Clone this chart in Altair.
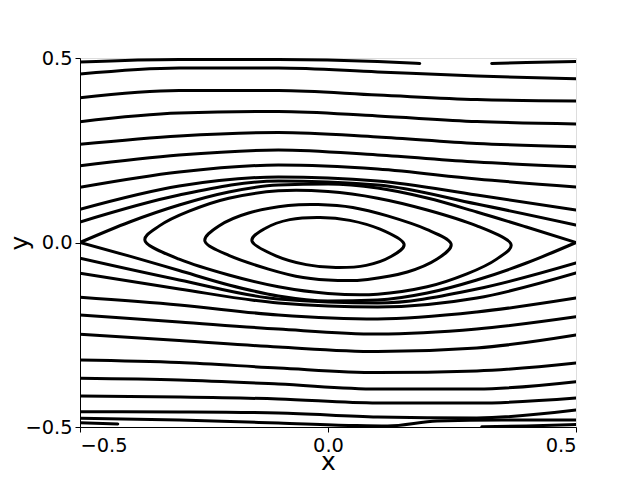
import altair as alt
import pandas as pd

# shared x positions for the open streamlines
xs = [-0.5, -0.3, -0.1, 0.1, 0.3, 0.5]

# upper open streamlines (top to bottom)
u1_x = [-0.5, -0.3, -0.1, 0.1, 0.185]
u1_y = [0.4892, 0.4959, 0.4959, 0.4905, 0.4851]
u1b_x = [0.33, 0.4, 0.5]
u1b_y = [0.4851, 0.4878, 0.4905]
u2_y = [0.4566, 0.4729, 0.4729, 0.4621, 0.4512, 0.4436]
u3_y = [0.3924, 0.4119, 0.4119, 0.3997, 0.3875, 0.3835]
u4_y = [0.3274, 0.3509, 0.3550, 0.3428, 0.3279, 0.3211]
u5_y = [0.2661, 0.2886, 0.2981, 0.2859, 0.2683, 0.2596]
u6_y = [0.2081, 0.2371, 0.2507, 0.2371, 0.2182, 0.2054]
u7_y = [0.1496, 0.1911, 0.2100, 0.1992, 0.1721, 0.1504]
u8_y = [0.0900, 0.1531, 0.1775, 0.1667, 0.1287, 0.0881]
u9_y = [0.0556, 0.1287, 0.1667, 0.1558, 0.1043, 0.0474]

# lower open streamlines (top to bottom)
l9_y = [-0.0428, -0.1016, -0.1531, -0.1640, -0.1260, -0.0556]
l8_y = [-0.0835, -0.1260, -0.1640, -0.1748, -0.1504, -0.0827]
l7_y = [-0.1485, -0.1694, -0.1965, -0.2073, -0.1883, -0.1504]
l6_y = [-0.1965, -0.2154, -0.2344, -0.2480, -0.2344, -0.2011]
l5_y = [-0.2487, -0.2656, -0.2832, -0.2954, -0.2859, -0.2507]
l4_y = [-0.3184, -0.3252, -0.3401, -0.3523, -0.3482, -0.3266]
l3_y = [-0.3680, -0.3726, -0.3835, -0.3970, -0.3970, -0.3772]
l2_y = [-0.4160, -0.4187, -0.4241, -0.4350, -0.4350, -0.4214]
l1_y = [-0.4585, -0.4593, -0.4620, -0.4729, -0.4756, -0.4539]
l0_x = [-0.5, -0.3, -0.1, 0.05, 0.12, 0.22, 0.35, 0.5]
l0_y = [-0.4764, -0.4810, -0.4892, -0.4959, -0.4973, -0.4837, -0.4810, -0.4810]
lh_x = [-0.5, -0.4238]
lh_y = [-0.4884, -0.4919]
lr_x = [0.31, 0.4, 0.5]
lr_y = [-0.4995, -0.4973, -0.4932]

# separatrix (two branches between the stagnation points)
sep_x = [-0.5, -0.4, -0.3, -0.2, -0.1, 0.0, 0.1, 0.2, 0.3, 0.4, 0.5]
sep_up_y = [0.0, 0.0556, 0.1016, 0.1369, 0.1558, 0.1585, 0.1477, 0.1206, 0.0827, 0.0420, 0.0]
sep_lo_y = [0.0, -0.0370, -0.0760, -0.1150, -0.1450, -0.1585, -0.1558, -0.1369, -0.1016, -0.0556, 0.0]

# closed streamlines inside the cat's eye
e1_x = [-0.153, -0.127, -0.077, -0.016, 0.044, 0.105, 0.153, 0.127, 0.077, 0.016, -0.044, -0.105]
e1_y = [0.003, 0.038, 0.062, 0.068, 0.060, 0.036, -0.003, -0.038, -0.062, -0.068, -0.060, -0.036]
e2_x = [-0.248, -0.22, -0.16, -0.08, -0.02, 0.05, 0.12, 0.2, 0.248, 0.22, 0.16, 0.08, 0.02, -0.05, -0.12, -0.2]
e2_y = [0.003, 0.045, 0.08, 0.1, 0.103, 0.095, 0.072, 0.035, -0.003, -0.045, -0.08, -0.1, -0.103, -0.095, -0.072, -0.035]
e3_x = [-0.368, -0.34, -0.28, -0.2, -0.1, 0.0, 0.1, 0.2, 0.3, 0.368, 0.34, 0.28, 0.2, 0.1, 0.0, -0.1, -0.2, -0.3]
e3_y = [0.002, 0.045, 0.085, 0.12, 0.14, 0.138, 0.12, 0.088, 0.045, -0.002, -0.045, -0.085, -0.12, -0.14, -0.138, -0.12, -0.088, -0.045]

# axis ticks
tick_values = [-0.5, 0.0, 0.5]

open_curves = {
    "u1": (u1_x, u1_y), "u1b": (u1b_x, u1b_y),
    "u2": (xs, u2_y), "u3": (xs, u3_y), "u4": (xs, u4_y), "u5": (xs, u5_y),
    "u6": (xs, u6_y), "u7": (xs, u7_y), "u8": (xs, u8_y), "u9": (xs, u9_y),
    "sep_up": (sep_x, sep_up_y), "sep_lo": (sep_x, sep_lo_y),
    "l9": (xs, l9_y), "l8": (xs, l8_y), "l7": (xs, l7_y), "l6": (xs, l6_y),
    "l5": (xs, l5_y), "l4": (xs, l4_y), "l3": (xs, l3_y), "l2": (xs, l2_y),
    "l1": (xs, l1_y), "l0": (l0_x, l0_y), "lh": (lh_x, lh_y), "lr": (lr_x, lr_y),
}
closed_curves = {"e1": (e1_x, e1_y), "e2": (e2_x, e2_y), "e3": (e3_x, e3_y)}


def to_rows(curves):
    rows = []
    for name, (cx, cy) in curves.items():
        for i, (a, b) in enumerate(zip(cx, cy)):
            rows.append({"curve": name, "i": i, "x": a, "y": b})
    return pd.DataFrame(rows)


df_open = to_rows(open_curves)
df_closed = to_rows(closed_curves)

label_expr = "replace(format(datum.value, '.1f'), '-', '\u2212')"
common_axis = dict(
    values=tick_values, labelExpr=label_expr, grid=False, tickSize=5,
    labelFontSize=19.4, titleFontSize=25, titleFontWeight="normal",
    labelFont="DejaVu Sans", titleFont="DejaVu Sans",
    domainColor="black", tickColor="black", labelColor="black",
    titleColor="black", tickWidth=1, domainWidth=1,
)

x_enc = alt.X(
    "x:Q",
    scale=alt.Scale(domain=[-0.5, 0.5], nice=False, zero=False),
    axis=alt.Axis(title="x", labelPadding=4, titleBaseline="alphabetic",
                  titleY=42, titleX=248, titleAlign="center", **common_axis),
)
y_enc = alt.Y(
    "y:Q",
    scale=alt.Scale(domain=[-0.5, 0.5], nice=False, zero=False),
    axis=alt.Axis(title="y", labelPadding=3, titleBaseline="alphabetic",
                  titleX=-53, titleY=184.5, titleAngle=270,
                  titleAlign="center", **common_axis),
)

open_layer = alt.Chart(df_open).mark_line(
    color="black", strokeWidth=3, interpolate="monotone", clip=True,
    strokeCap="round", strokeJoin="round"
).encode(x=x_enc, y=y_enc, detail="curve:N", order="i:Q")

closed_layer = alt.Chart(df_closed).mark_line(
    color="black", strokeWidth=3, interpolate="cardinal-closed", clip=True,
    strokeJoin="round"
).encode(x="x:Q", y="y:Q", detail="curve:N", order="i:Q")

chart = (
    alt.layer(open_layer, closed_layer)
    .properties(width=496, height=369, autosize="none",
                padding={"left": 72, "top": 50, "right": 56, "bottom": 45})
    .configure_view(stroke="black", strokeWidth=1)
    .configure(background="white")
)

chart.save("out.html", embed_options={"renderer": "svg", "actions": False})
